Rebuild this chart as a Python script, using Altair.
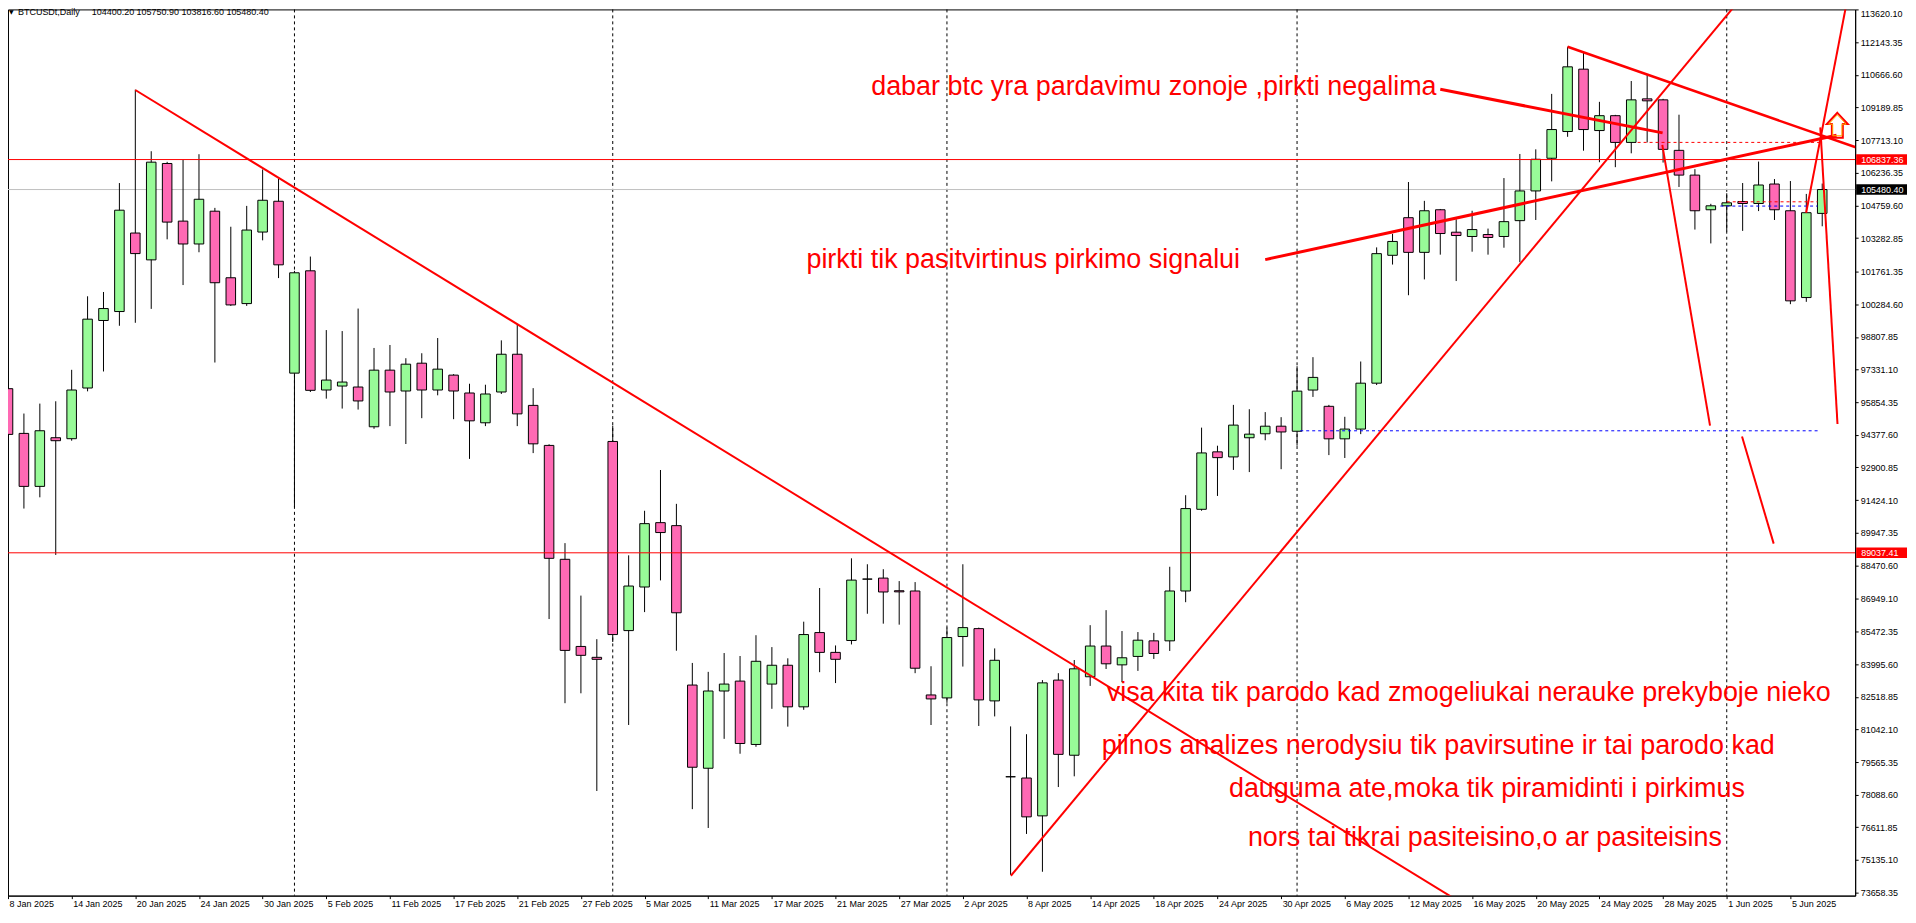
import altair as alt
import pandas as pd

# ---------------- data (bar index 0 = 8 Jan 2025) ----------------
opens = [96466, 94442, 92044, 94247, 94202, 96496, 99553, 99958, 103511, 102297,
         106659, 104051, 103016, 104500, 101487, 100318, 103556, 104950, 97170, 101802,
         96406, 96586, 96541, 94742, 97305, 96361, 97620, 96406, 97080, 96271,
         94922, 96316, 98025, 95710, 93898, 88743, 84799, 84306, 94077, 85516,
         87489, 90402, 90267, 83051, 79286, 82782, 83230, 80362, 83096, 83947,
         82065, 85427, 84530, 85068, 87847, 87892, 87320, 87309, 82603, 82469,
         85247, 85606, 82334, 78900, 78843, 77130, 83275, 79874, 83427, 84817,
         83965, 84347, 85052, 85052, 87309, 91006, 93607, 93378, 94245, 94425,
         94768, 94539, 96404, 95668, 94196, 94637, 96715, 102503, 104206, 102637,
         104565, 103549, 103355, 103444, 103355, 104072, 105417, 106896, 108106, 110929,
         108150, 108823, 107613, 109585, 109540, 107254, 106134, 104565, 104744, 104939,
         104849, 105730, 104520, 100591, 104400.20]
highs = [97245, 95341, 95791, 95896, 97320, 100648, 100843, 105774, 110002, 107214,
         106734, 106824, 107079, 104650, 103796, 104740, 106389, 105970, 101800, 102447,
         99119, 99074, 100093, 98309, 98444, 97845, 98070, 98759, 97125, 96690,
         96645, 98654, 99374, 96490, 93950, 89475, 87100, 85128, 94794, 88923,
         90940, 92785, 91253, 84052, 83649, 84500, 84366, 85307, 84769, 84261,
         85920, 87444, 84844, 88788, 88519, 88295, 87757, 87712, 83903, 85651,
         88519, 85650, 84710, 81180, 80826, 83275, 83589, 84185, 85762, 86442,
         85496, 85450, 85412, 88405, 91644, 94703, 93885, 95733, 95537, 95406,
         95177, 97484, 97893, 95733, 95193, 97696, 102862, 103474, 105820, 104968,
         104600, 104132, 104520, 103713, 105999, 107090, 107300, 109809, 111945, 111661,
         109450, 108860, 110392, 110705, 109585, 108868, 106402, 104834, 105312, 105775,
         106746, 105954, 105865, 105282, 105750.90]
lows = [92448, 91040, 91549, 88941, 94112, 96346, 97245, 99314, 99449, 100078,
        103226, 101157, 102641, 97650, 100213, 100213, 103181, 101472, 91099, 96316,
        96016, 95566, 95521, 94650, 94772, 93962, 95131, 96166, 95086, 93288,
        94772, 96226, 94772, 93550, 86039, 82230, 82678, 78256, 85000, 81244,
        86353, 87788, 84605, 77434, 76582, 80616, 79943, 80257, 81976, 81169,
        81931, 83634, 83141, 84889, 86278, 85830, 85785, 83589, 81243, 82245,
        83888, 81199, 81632, 74460, 76312, 74600, 78435, 78920, 83012, 83778,
        83186, 83692, 84234, 84594, 86802, 90941, 91611, 92789, 92691, 94131,
        92822, 93885, 96093, 93460, 93329, 94409, 96632, 102085, 100696, 101413,
        102533, 101338, 102667, 102533, 102847, 102190, 104102, 105850, 107867, 107239,
        106716, 106492, 107120, 107613, 106701, 105596, 103668, 103041, 103579, 103609,
        104505, 104102, 100292, 100397, 103816.60]
closes = [94397, 92044, 94562, 94112, 96406, 99613, 100093, 104545, 102581, 106719,
          104006, 103016, 105040, 101262, 100258, 103646, 104995, 102072, 101712, 96391,
          96856, 96766, 95911, 97305, 96316, 97575, 96406, 97350, 96361, 95011,
          96226, 98025, 95326, 93970, 88788, 84620, 84396, 84216, 85337, 87533,
          90357, 89954, 86323, 79331, 82782, 83096, 80406, 84127, 83947, 82065,
          85337, 84530, 84217, 87802, 87847, 87264, 87270, 83813, 82424, 85202,
          85651, 82379, 84172, 78900, 77085, 83150, 79914, 83786, 84817, 84013,
          84286, 85082, 84479, 87309, 91039, 93558, 93345, 94817, 94408, 94768,
          94507, 96355, 96977, 94196, 94637, 96715, 102578, 103131, 102637, 104520,
          103489, 103399, 103668, 103310, 104027, 105417, 106851, 108195, 111034, 108195,
          108823, 107613, 109540, 109495, 107299, 106134, 104520, 104744, 104879, 104849,
          105685, 104565, 100442, 104431, 105480.40]

x_labels = ["8 Jan 2025", "14 Jan 2025", "20 Jan 2025", "24 Jan 2025", "30 Jan 2025",
            "5 Feb 2025", "11 Feb 2025", "17 Feb 2025", "21 Feb 2025", "27 Feb 2025",
            "5 Mar 2025", "11 Mar 2025", "17 Mar 2025", "21 Mar 2025", "27 Mar 2025",
            "2 Apr 2025", "8 Apr 2025", "14 Apr 2025", "18 Apr 2025", "24 Apr 2025",
            "30 Apr 2025", "6 May 2025", "12 May 2025", "16 May 2025", "20 May 2025",
            "24 May 2025", "28 May 2025", "1 Jun 2025", "5 Jun 2025"]
x_label_bars = [0, 4, 8, 12, 16, 20, 24, 28, 32, 36, 40, 44, 48, 52, 56, 60, 64, 68,
                72, 76, 80, 84, 88, 92, 96, 100, 104, 108, 112]
y_ticks = [113620.10, 112143.35, 110666.60, 109189.85, 107713.10, 106236.35, 104759.60,
           103282.85, 101761.35, 100284.60, 98807.85, 97331.10, 95854.35, 94377.60,
           92900.85, 91424.10, 89947.35, 88470.60, 86949.10, 85472.35, 83995.60,
           82518.85, 81042.10, 79565.35, 78088.60, 76611.85, 75135.10, 73658.35]

month_starts = [18, 38, 59, 81, 108]
levels = [106837.36, 89037.41]
bid = 105480.40

# trend lines: start bar, start price, end bar, end price, width
seg_i0 = [8.0, 63.02, 79.0, 90.0, 98.0, 103.95, 108.96, 112.99, 113.88]
seg_p0 = [109985, 74420, 102308, 110017, 111944, 107500, 94303, 104432, 108294]
seg_i1 = [91.0, 109.2, 114.9, 103.97, 117.0, 106.95, 110.95, 115.6, 114.96]
seg_p1 = [73332, 114398, 107937, 108045, 107165, 94796, 89453, 114178, 94867]
seg_w = [2, 2, 3, 3, 2.5, 2, 2, 2, 2]

# dotted lines
dot_i0 = [102.4, 108.0, 107.6, 81.2]
dot_i1 = [113.9, 113.7, 113.7, 113.76]
dot_p = [107614, 104925, 104732, 94560]
dot_c = ["#FF0000", "#FF0000", "#0000FF", "#0000FF"]

notes = ["dabar btc yra pardavimu zonoje ,pirkti negalima",
         "pirkti tik pasitvirtinus pirkimo signalui",
         "visa kita tik parodo kad zmogeliukai nerauke prekyboje nieko",
         "pilnos analizes nerodysiu tik pavirsutine ir tai parodo kad",
         "dauguma ate,moka tik piramidinti i pirkimus",
         "nors tai tikrai pasiteisino,o ar pasiteisins"]
note_i = [54.24, 50.17, 69.04, 68.73, 76.72, 77.91]
note_p = [109779, 101936, 82349, 79929, 78001, 75761]

arrow_i, arrow_p = [114.95], [108389]

# ---------------- layout ----------------
W, H = 1853, 889
FONT = "Liberation Sans, Arial, sans-serif"
xs = alt.Scale(domain=[0, 116.07], nice=False, zero=False)
ys = alt.Scale(domain=[73520, 113633], nice=False, zero=False)

lbl_js = "[" + ",".join("'%s'" % s for s in x_labels) + "]"
xaxis = alt.Axis(values=x_label_bars, labelExpr=lbl_js + "[round(datum.value/4)]",
                 labelAlign="left", labelBaseline="top", labelPadding=1, labelOffset=1,
                 labelFlush=False, labelOverlap=False, tickSize=3, grid=False,
                 domainColor="black", tickColor="black", labelColor="black",
                 labelFont=FONT, labelFontSize=9)
yaxis = alt.Axis(orient="right", values=y_ticks, format=".2f", labelPadding=2,
                 labelBaseline={"condition": {"test": "datum.value > 113000", "value": "top"},
                                "value": "middle"},
                 labelFlush=False, labelOverlap=False, tickSize=3, grid=False,
                 domainColor="black", tickColor="black", labelColor="black",
                 labelFont=FONT, labelFontSize=9)


def X(f):
    return alt.X(f, type="quantitative", scale=xs, axis=xaxis, title=None)


def Y(f):
    return alt.Y(f, type="quantitative", scale=ys, axis=yaxis, title=None)


bars = pd.DataFrame({"i": list(range(len(opens))), "o": opens, "h": highs,
                     "l": lows, "c": closes})

sep = alt.Chart(pd.DataFrame({"i": month_starts})).mark_rule(
    color="black", strokeDash=[3, 3], strokeWidth=1).encode(x=X("i"))

bidline = alt.Chart(pd.DataFrame({"p": [bid]})).mark_rule(
    color="#C0C0C0", strokeWidth=1).encode(y=Y("p"))

wicks = alt.Chart(bars).mark_rule(color="black", strokeWidth=1).encode(
    x=X("i"), y=Y("l"), y2="h")

bodies = alt.Chart(bars).transform_calculate(
    x0="datum.i - 0.3", x1="datum.i + 0.3"
).mark_rect(stroke="black", strokeWidth=1).encode(
    x=X("x0"), x2="x1", y=Y("o"), y2="c",
    fill=alt.condition("datum.c >= datum.o", alt.value("#98FB98"), alt.value("#FF69B4")))

lvl = alt.Chart(pd.DataFrame({"p": levels})).mark_rule(
    color="#FF0000", strokeWidth=1).encode(y=Y("p"))

dots = alt.Chart(pd.DataFrame({"i0": dot_i0, "i1": dot_i1, "p": dot_p, "col": dot_c})).mark_rule(
    strokeDash=[3, 3], strokeWidth=1).encode(
    x=X("i0"), x2="i1", y=Y("p"), color=alt.Color("col:N", scale=None))

texts = alt.Chart(pd.DataFrame({"i": note_i, "p": note_p, "t": notes})).mark_text(
    align="left", baseline="alphabetic", font=FONT, fontSize=27, color="#FF0000").encode(
    x=X("i"), y=Y("p"), text="t:N")

segs = alt.Chart(pd.DataFrame({"i0": seg_i0, "p0": seg_p0, "i1": seg_i1, "p1": seg_p1,
                               "w": seg_w})).mark_rule(color="#FF0000", clip=True).encode(
    x=X("i0"), x2="i1", y=Y("p0"), y2="p1",
    strokeWidth=alt.StrokeWidth("w:Q", scale=None))

arrow_path = "M0,-1 L0.84,-0.1 L0.44,-0.1 L0.44,1 L-0.44,1 L-0.44,-0.1 L-0.84,-0.1 Z"
arrow = alt.Chart(pd.DataFrame({"i": arrow_i, "p": arrow_p})).mark_point(
    shape=arrow_path, size=625, filled=False, stroke="#FF0000", strokeWidth=2,
    opacity=1).encode(x=X("i"), y=Y("p"))
arrow_in = alt.Chart(pd.DataFrame({"i": arrow_i, "p": arrow_p})).mark_point(
    shape=arrow_path, size=440, filled=False, stroke="#FFB000", strokeWidth=1,
    opacity=1).encode(x=X("i"), y=Y("p"))

hdr_vals = "%.2f %.2f %.2f %.2f" % (opens[-1], highs[-1], lows[-1], closes[-1])
hdr = pd.DataFrame({"a": ["\u25BC"], "b": ["BTCUSDt,Daily"], "c": [hdr_vals]})
base_h = alt.Chart(hdr)
h1 = base_h.mark_text(align="left", baseline="alphabetic", font="DejaVu Sans",
                      fontSize=6, color="black").encode(
    x=alt.value(1), y=alt.value(5), text="a:N")
h2 = base_h.mark_text(align="left", baseline="alphabetic", font=FONT,
                      fontSize=9, color="black").encode(
    x=alt.value(10), y=alt.value(6), text="b:N")
h3 = base_h.mark_text(align="left", baseline="alphabetic", font=FONT,
                      fontSize=9, color="black").encode(
    x=alt.value(84), y=alt.value(6), text="c:N")

tags = pd.DataFrame({"p": [levels[0], levels[1], bid],
                     "t": ["%.2f" % levels[0], "%.2f" % levels[1], "%.2f" % bid],
                     "bg": ["#FF0000", "#FF0000", "#000000"]})
tag_box = alt.Chart(tags).transform_calculate(
    hi="datum.p + 240", lo="datum.p - 240"
).mark_rect().encode(
    x=alt.value(W + 1), x2=alt.value(W + 52), y=Y("hi"), y2="lo",
    fill=alt.Color("bg:N", scale=None))
tag_txt = alt.Chart(tags).mark_text(align="left", baseline="middle", font=FONT,
                                    fontSize=9, color="white").encode(
    x=alt.value(W + 6), y=Y("p"), text="t:N")

chart = alt.layer(
    sep, bidline, wicks, bodies, lvl, dots, texts, segs, arrow, arrow_in,
    h1, h2, h3, tag_box, tag_txt
).properties(
    width=W, height=H,
    autosize=alt.AutoSizeParams(type="none"),
    padding={"left": 0, "top": 0, "right": 53, "bottom": 14},
    background="white"
).configure_view(stroke="black", strokeWidth=1)

chart.save("out.html", embed_options={"renderer": "svg", "actions": False})
